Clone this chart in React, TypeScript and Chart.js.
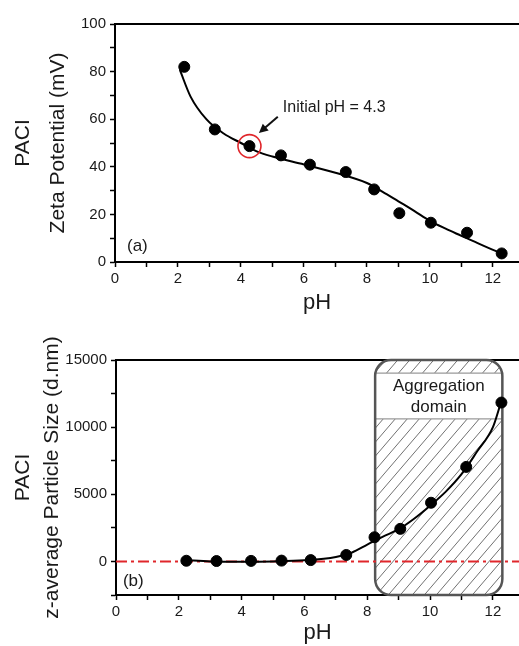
import React, { useEffect, useRef } from 'react';
import { Chart, registerables } from 'chart.js';
Chart.register(...registerables);

// ---------- data: panel (a) ----------
const phA = [2.2, 3.17, 4.27, 5.27, 6.19, 7.33, 8.23, 9.03, 10.03, 11.18, 12.28];
const zetaA = [82, 55.7, 48.7, 44.8, 40.9, 37.8, 30.5, 20.5, 16.5, 12.3, 3.6];
const fitPhA = [2.06, 2.4, 2.9, 3.45, 4, 4.5, 5, 6, 7, 8, 8.5, 9, 9.5, 10, 10.5, 11, 11.5, 12.2];
const fitZetaA = [80.7, 69.5, 60, 54, 50, 46.5, 44.3, 41, 37.5, 33.2, 29.5, 25.5, 21.5, 17.3, 14, 11, 8, 4];

// ---------- data: panel (b) ----------
const phB = [2.24, 3.2, 4.3, 5.27, 6.2, 7.33, 8.23, 9.05, 10.03, 11.15, 12.27];
const sizeB = [50, 30, 40, 60, 100, 480, 1800, 2425, 4370, 7040, 11830];
const fitPhB = [2.2, 3, 4, 5, 6, 7, 7.5, 8, 8.5, 9, 9.5, 10, 10.5, 11, 11.5, 12, 12.25];
const fitSizeB = [100, 0, -20, 0, 80, 330, 650, 1250, 1850, 2400, 3200, 4150, 5200, 6500, 8200, 10000, 11800];

// ---------- axes ----------
const xTicks = [0, 1, 2, 3, 4, 5, 6, 7, 8, 9, 10, 11, 12];
const X_MIN = 0;
const X_MAX = 12.83;
const yTicksA = [0, 10, 20, 30, 40, 50, 60, 70, 80, 90, 100];
const yTicksB = [-2500, 0, 2500, 5000, 7500, 10000, 12500, 15000];

// ---------- annotations ----------
const initialPh = 4.27;
const initialZeta = 48.7;
const annotText = 'Initial pH = 4.3';
const annotTextPos = [5.33, 65];
const arrowTail = [5.17, 61];
const arrowHead = [4.57, 54.2];
const panelALabel = '(a)';
const panelALabelPos = [0.38, 6.8];
const panelBLabel = '(b)';
const panelBLabelPos = [0.22, -1445];
const aggRange = [8.25, 12.3];
const aggBand = [10610, 14030];
const aggText = ['Aggregation', 'domain'];
const aggTextY = [13005, 11465];

const FONT = "'Liberation Sans', Arial, Helvetica, sans-serif";
const INK = '#1a1a1a';

function xAxis(titleBottomPad: number, height: number) {
  return {
    type: 'linear',
    position: 'bottom',
    min: X_MIN,
    max: X_MAX,
    afterBuildTicks: (ax: any) => {
      ax.ticks = xTicks.map((v) => ({ value: v }));
    },
    ticks: {
      callback: (v: any) => (Number(v) % 2 === 0 ? String(v) : ''),
      font: { family: FONT, size: 15 },
      color: INK,
      padding: 3,
      maxRotation: 0,
      autoSkip: false,
    },
    grid: { drawOnChartArea: false, tickLength: 5, color: '#000', tickWidth: 1.5 },
    border: { color: '#000', width: 2 },
    title: {
      display: true,
      text: 'pH',
      color: INK,
      font: { family: FONT, size: 22, lineHeight: 1.2 },
      padding: { top: 0, bottom: titleBottomPad },
    },
    afterFit: (ax: any) => {
      ax.height = height;
      ax.paddingRight = 0;
      ax.paddingLeft = 0;
    },
  };
}

function topAxis() {
  return {
    type: 'linear',
    position: 'top',
    min: X_MIN,
    max: X_MAX,
    ticks: { display: false },
    grid: { drawOnChartArea: false, drawTicks: false },
    border: { color: '#000', width: 2 },
    afterFit: (ax: any) => {
      ax.height = 0;
      ax.paddingRight = 0;
      ax.paddingLeft = 0;
    },
  };
}

function yAxis(min: number, max: number, ticks: number[], labelStep: number, title: string[], lh: number, padTop: number, width: number) {
  return {
    type: 'linear',
    min,
    max,
    afterBuildTicks: (ax: any) => {
      ax.ticks = ticks.map((v) => ({ value: v }));
    },
    ticks: {
      callback: (v: any) => (Number(v) >= 0 && Number(v) % labelStep === 0 ? String(v) : ''),
      font: { family: FONT, size: 15 },
      color: INK,
      padding: 4,
      autoSkip: false,
    },
    grid: { drawOnChartArea: false, tickLength: 5, color: '#000', tickWidth: 1.5 },
    border: { color: '#000', width: 2 },
    title: {
      display: true,
      text: title,
      color: INK,
      font: { family: FONT, size: 21, lineHeight: lh },
      padding: { top: padTop, bottom: 0 },
    },
    afterFit: (ax: any) => {
      ax.width = width;
    },
  };
}

function drawLabel(ctx: any, text: string, px: number, py: number, size: number, align: string) {
  ctx.save();
  ctx.fillStyle = INK;
  ctx.font = `${size}px ${FONT}`;
  ctx.textAlign = align;
  ctx.textBaseline = 'middle';
  ctx.fillText(text, px, py);
  ctx.restore();
}

const annotPluginA = {
  id: 'annotA',
  afterDatasetsDraw(chart: any) {
    const { ctx, scales } = chart;
    const x = scales.x;
    const y = scales.y;
    ctx.save();
    ctx.strokeStyle = '#e0262b';
    ctx.lineWidth = 1.6;
    ctx.beginPath();
    ctx.arc(x.getPixelForValue(initialPh), y.getPixelForValue(initialZeta), 11.5, 0, Math.PI * 2);
    ctx.stroke();
    const tx = x.getPixelForValue(arrowTail[0]);
    const ty = y.getPixelForValue(arrowTail[1]);
    const hx = x.getPixelForValue(arrowHead[0]);
    const hy = y.getPixelForValue(arrowHead[1]);
    const ang = Math.atan2(hy - ty, hx - tx);
    ctx.strokeStyle = '#111';
    ctx.fillStyle = '#111';
    ctx.lineWidth = 2;
    ctx.beginPath();
    ctx.moveTo(tx, ty);
    ctx.lineTo(hx - 5 * Math.cos(ang), hy - 5 * Math.sin(ang));
    ctx.stroke();
    ctx.beginPath();
    ctx.moveTo(hx, hy);
    ctx.lineTo(hx - 9 * Math.cos(ang) + 4.5 * Math.sin(ang), hy - 9 * Math.sin(ang) - 4.5 * Math.cos(ang));
    ctx.lineTo(hx - 9 * Math.cos(ang) - 4.5 * Math.sin(ang), hy - 9 * Math.sin(ang) + 4.5 * Math.cos(ang));
    ctx.closePath();
    ctx.fill();
    ctx.restore();
    drawLabel(ctx, annotText, x.getPixelForValue(annotTextPos[0]), y.getPixelForValue(annotTextPos[1]), 16, 'left');
    drawLabel(ctx, panelALabel, x.getPixelForValue(panelALabelPos[0]), y.getPixelForValue(panelALabelPos[1]), 17, 'left');
  },
};

function roundRectPath(ctx: any, l: number, t: number, r: number, b: number, rad: number) {
  ctx.beginPath();
  ctx.moveTo(l + rad, t);
  ctx.lineTo(r - rad, t);
  ctx.arcTo(r, t, r, t + rad, rad);
  ctx.lineTo(r, b - rad);
  ctx.arcTo(r, b, r - rad, b, rad);
  ctx.lineTo(l + rad, b);
  ctx.arcTo(l, b, l, b - rad, rad);
  ctx.lineTo(l, t + rad);
  ctx.arcTo(l, t, l + rad, t, rad);
  ctx.closePath();
}

function hatchPattern(ctx: any) {
  const c = document.createElement('canvas');
  const w = 12;
  const h = 14;
  c.width = w;
  c.height = h;
  const g = c.getContext('2d') as CanvasRenderingContext2D;
  g.strokeStyle = '#707070';
  g.lineWidth = 1;
  for (const off of [-w, 0, w]) {
    g.beginPath();
    g.moveTo(off, h);
    g.lineTo(off + w, 0);
    g.stroke();
  }
  return ctx.createPattern(c, 'repeat');
}

const aggPluginB = {
  id: 'aggB',
  beforeDatasetsDraw(chart: any) {
    const { ctx, scales, chartArea } = chart;
    const x = scales.x;
    const y = scales.y;
    const l = x.getPixelForValue(aggRange[0]);
    const r = x.getPixelForValue(aggRange[1]);
    const t = chartArea.top;
    const b = chartArea.bottom;
    ctx.save();
    roundRectPath(ctx, l, t, r, b, 16);
    ctx.fillStyle = '#ffffff';
    ctx.fill();
    ctx.save();
    ctx.clip();
    ctx.fillStyle = hatchPattern(ctx);
    ctx.fillRect(l, t, r - l, b - t);
    const bt = y.getPixelForValue(aggBand[1]);
    const bb = y.getPixelForValue(aggBand[0]);
    ctx.fillStyle = '#ffffff';
    ctx.fillRect(l, bt, r - l, bb - bt);
    ctx.strokeStyle = '#9a9a9a';
    ctx.lineWidth = 1.2;
    ctx.beginPath();
    ctx.moveTo(l, bt);
    ctx.lineTo(r, bt);
    ctx.moveTo(l, bb);
    ctx.lineTo(r, bb);
    ctx.stroke();
    ctx.restore();
    roundRectPath(ctx, l, t, r, b, 16);
    ctx.strokeStyle = '#555555';
    ctx.lineWidth = 2.5;
    ctx.stroke();
    ctx.restore();
    const cx = (l + r) / 2;
    drawLabel(ctx, aggText[0], cx, y.getPixelForValue(aggTextY[0]), 17, 'center');
    drawLabel(ctx, aggText[1], cx, y.getPixelForValue(aggTextY[1]), 17, 'center');
  },
  afterDatasetsDraw(chart: any) {
    const { ctx, scales } = chart;
    drawLabel(ctx, panelBLabel, scales.x.getPixelForValue(panelBLabelPos[0]), scales.y.getPixelForValue(panelBLabelPos[1]), 17, 'left');
  },
};

function pts(xs: number[], ys: number[]) {
  return xs.map((v, i) => ({ x: v, y: ys[i] }));
}

function ChartA() {
  const ref = useRef<HTMLCanvasElement>(null);
  useEffect(() => {
    const chart = new Chart(ref.current as HTMLCanvasElement, {
      type: 'scatter',
      data: {
        datasets: [
          {
            data: pts(phA, zetaA),
            backgroundColor: '#000',
            borderColor: '#000',
            pointRadius: 5.5,
            pointHoverRadius: 5.5,
          },
          {
            data: pts(fitPhA, fitZetaA),
            showLine: true,
            borderColor: '#000',
            borderWidth: 2,
            pointRadius: 0,
            cubicInterpolationMode: 'monotone',
          },
        ],
      } as any,
      options: {
        animation: false,
        responsive: true,
        maintainAspectRatio: false,
        layout: { autoPadding: false, padding: { top: 24, right: 0, left: 0, bottom: 0 } },
        plugins: { legend: { display: false }, tooltip: { enabled: false } },
        scales: {
          x: xAxis(4, 58),
          x2: topAxis(),
          y: yAxis(0, 100, yTicksA, 20, ['PACI', 'Zeta Potential (mV)'], 35 / 21, 5.5, 115),
        } as any,
      },
      plugins: [annotPluginA],
    });
    return () => chart.destroy();
  }, []);
  return <canvas ref={ref} />;
}

function ChartB() {
  const ref = useRef<HTMLCanvasElement>(null);
  useEffect(() => {
    const chart = new Chart(ref.current as HTMLCanvasElement, {
      type: 'scatter',
      data: {
        datasets: [
          {
            data: pts(phB, sizeB),
            backgroundColor: '#000',
            borderColor: '#000',
            pointRadius: 5.5,
            pointHoverRadius: 5.5,
          },
          {
            data: pts(fitPhB, fitSizeB),
            showLine: true,
            borderColor: '#000',
            borderWidth: 2,
            pointRadius: 0,
            cubicInterpolationMode: 'monotone',
          },
          {
            data: [
              { x: X_MIN, y: 0 },
              { x: X_MAX, y: 0 },
            ],
            showLine: true,
            borderColor: '#e0262b',
            borderWidth: 2,
            borderDash: [11, 4, 3, 4],
            pointRadius: 0,
          },
        ],
      } as any,
      options: {
        animation: false,
        responsive: true,
        maintainAspectRatio: false,
        layout: { autoPadding: false, padding: { top: 40, right: 0, left: 0, bottom: 0 } },
        plugins: { legend: { display: false }, tooltip: { enabled: false } },
        scales: {
          x: xAxis(0, 51),
          x2: topAxis(),
          y: yAxis(-2500, 15000, yTicksB, 5000, ['PACI', 'z-average Particle Size (d.nm)'], 29 / 21, 8.5, 116),
        } as any,
      },
      plugins: [aggPluginB],
    });
    return () => chart.destroy();
  }, []);
  return <canvas ref={ref} />;
}

export default function App() {
  return (
    <div style={{ position: 'absolute', left: 0, top: 0, width: 519, height: 646, background: '#fff' }}>
      <div style={{ position: 'absolute', left: 0, top: 0, width: 519, height: 320 }}>
        <ChartA />
      </div>
      <div style={{ position: 'absolute', left: 0, top: 320, width: 519, height: 326 }}>
        <ChartB />
      </div>
    </div>
  );
}
